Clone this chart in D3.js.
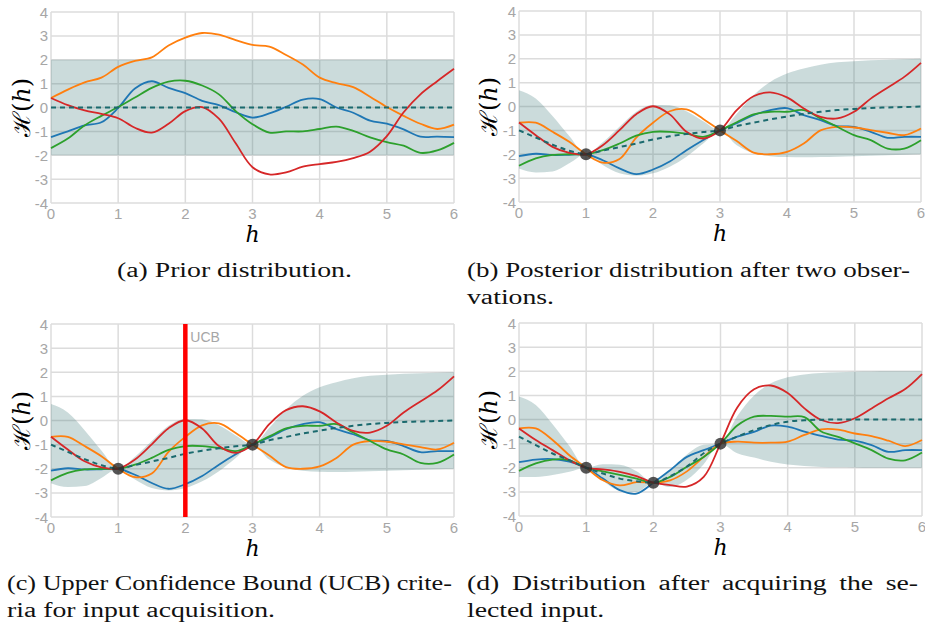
<!DOCTYPE html>
<html>
<head>
<meta charset="utf-8">
<script src="https://cdn.jsdelivr.net/npm/d3@7"></script>
<style>
  html, body { margin: 0; padding: 0; background: #fff; }
  svg { display: block; }
</style>
</head>
<body>
<svg id="fig" width="925" height="625"></svg>
<script>
// Gaussian-process sketches on a shared input grid h = 0 … 6
const hGrid = [0, 0.25, 0.5, 0.75, 1, 1.25, 1.5, 1.75, 2, 2.25, 2.5, 2.75, 3,
               3.25, 3.5, 3.75, 4, 4.25, 4.5, 4.75, 5, 5.25, 5.5, 5.75, 6];
const xTicks = [0, 1, 2, 3, 4, 5, 6];
const yTicks = [-4, -3, -2, -1, 0, 1, 2, 3, 4];

// (a) prior
const priorMean  = [0,0,0,0,0,0,0,0,0,0,0,0,0,0,0,0,0,0,0,0,0,0,0,0,0];
const priorUpper = [2,2,2,2,2,2,2,2,2,2,2,2,2,2,2,2,2,2,2,2,2,2,2,2,2];
const priorLower = [-2,-2,-2,-2,-2,-2,-2,-2,-2,-2,-2,-2,-2,-2,-2,-2,-2,-2,-2,-2,-2,-2,-2,-2,-2];
const priorBlue   = [-1.24,-1.0,-0.75,-0.62,-0.02,0.8,1.1,0.82,0.6,0.28,0.1,-0.2,-0.42,-0.25,0.03,0.33,0.35,0.0,-0.22,-0.55,-0.68,-0.92,-1.22,-1.22,-1.24];
const priorOrange = [0.40,0.75,1.05,1.25,1.7,1.95,2.1,2.6,2.93,3.12,3.05,2.82,2.62,2.55,2.2,1.8,1.25,1.02,0.85,0.45,0.02,-0.35,-0.68,-0.9,-0.72];
const priorGreen  = [-1.70,-1.3,-0.75,-0.35,0.02,0.42,0.82,1.08,1.12,0.92,0.55,-0.15,-0.7,-1.05,-1.0,-1.0,-0.9,-0.8,-0.98,-1.25,-1.45,-1.6,-1.9,-1.8,-1.48];
const priorRed    = [0.40,0.1,-0.12,-0.27,-0.45,-0.85,-1.05,-0.68,-0.15,0.02,-0.47,-1.5,-2.5,-2.8,-2.72,-2.48,-2.37,-2.28,-2.12,-1.85,-1.2,-0.2,0.55,1.1,1.62];

// (b), (c) posterior after two observations
const postObsH = [1, 3];
const postObsY = [-2, -1];
const postMean  = [-1.0,-1.3,-1.6,-1.85,-2.0,-1.85,-1.7,-1.55,-1.38,-1.25,-1.15,-1.07,-1.0,-0.82,-0.68,-0.54,-0.42,-0.31,-0.22,-0.15,-0.1,-0.06,-0.04,-0.02,0.0];
const postUpper = [0.68,0.33,-0.4,-1.24,-2.0,-1.5,-0.85,-0.22,0.06,0.05,-0.2,-0.62,-1.0,-0.3,0.47,1.03,1.38,1.59,1.75,1.85,1.9,1.94,1.96,1.98,2.0];
const postLower = [-2.6,-2.76,-2.72,-2.38,-2.0,-2.45,-2.8,-2.9,-2.8,-2.52,-2.1,-1.55,-1.0,-1.62,-1.95,-2.08,-2.12,-2.13,-2.12,-2.1,-2.08,-2.06,-2.04,-2.02,-2.0];
const postBlue   = [-2.08,-1.98,-2.03,-2.02,-2.0,-2.25,-2.59,-2.83,-2.64,-2.3,-1.83,-1.4,-1.0,-0.7,-0.36,-0.15,-0.07,-0.36,-0.57,-0.82,-0.85,-1.06,-1.31,-1.27,-1.27];
const postOrange = [-0.68,-0.68,-1.06,-1.48,-2.0,-2.35,-2.2,-1.3,-0.68,-0.2,-0.12,-0.52,-1.0,-1.45,-1.93,-2.0,-1.9,-1.55,-1.0,-0.85,-0.88,-0.99,-1.1,-1.2,-0.92];
const postGreen  = [-2.48,-2.17,-2.03,-2.0,-2.0,-1.83,-1.55,-1.22,-1.06,-1.06,-1.14,-1.27,-1.0,-0.66,-0.33,-0.22,-0.22,-0.15,-0.5,-0.85,-1.2,-1.41,-1.76,-1.76,-1.41];
const postRed    = [-0.67,-1.2,-1.69,-1.94,-2.0,-1.62,-0.99,-0.32,0.01,-0.33,-1.06,-1.34,-1.0,-0.15,0.43,0.59,0.38,-0.08,-0.43,-0.5,-0.22,0.33,0.79,1.24,1.83];
const ucbH = 2;
const ucbLabel = "UCB";

// (d) posterior after acquiring h = 2
const acqObsH = [1, 2, 3];
const acqObsY = [-2, -2.62, -1];
const acqMean  = [-0.71,-1.06,-1.41,-1.69,-2.0,-2.24,-2.45,-2.56,-2.62,-2.35,-1.95,-1.4,-1.0,-0.71,-0.44,-0.23,-0.09,-0.03,-0.01,0,0,0,0,0,0];
const acqUpper = [0.95,0.6,-0.2,-1.1,-2.0,-1.86,-1.88,-2.15,-2.62,-2.1,-1.45,-1.05,-1.0,0.15,1.0,1.5,1.75,1.87,1.93,1.96,1.98,1.99,2.0,2.0,2.0];
const acqLower = [-2.38,-2.38,-2.3,-2.17,-2.0,-2.55,-2.95,-3.0,-2.62,-2.8,-2.5,-1.85,-1.0,-1.4,-1.58,-1.75,-1.87,-1.93,-1.97,-1.98,-1.99,-2.0,-2.0,-2.0,-2.0];
const acqBlue   = [-1.77,-1.66,-1.64,-1.75,-2.0,-2.45,-2.93,-3.07,-2.62,-2.1,-1.55,-1.27,-1.0,-0.71,-0.51,-0.25,-0.3,-0.5,-0.68,-0.83,-0.88,-1.06,-1.34,-1.27,-1.27];
const acqOrange = [-0.37,-0.37,-0.85,-1.48,-2.0,-2.52,-2.73,-2.6,-2.62,-2.52,-2.15,-1.55,-1.0,-0.92,-0.96,-0.96,-0.92,-0.64,-0.41,-0.42,-0.58,-0.69,-0.88,-1.1,-0.85];
const acqGreen  = [-2.13,-1.82,-1.66,-1.69,-2.0,-2.15,-2.3,-2.45,-2.62,-2.38,-1.96,-1.55,-1.0,-0.25,0.12,0.15,0.12,0.1,-0.5,-0.72,-0.99,-1.27,-1.62,-1.69,-1.37];
const acqRed    = [-0.37,-0.85,-1.27,-1.69,-2.0,-2.07,-2.17,-2.35,-2.62,-2.72,-2.78,-2.38,-1.0,0.5,1.25,1.41,1.1,0.46,-0.02,-0.15,0.05,0.46,0.88,1.26,1.88];

const captionA  = ["(a) Prior distribution."];
const captionB  = ["(b) Posterior distribution after two obser-", "vations."];
const captionC  = ["(c) Upper Confidence Bound (UCB) crite-", "ria for input acquisition."];
const captionD  = ["(d) Distribution after acquiring the se-", "lected input."];

const sampleColors = ["#1f77b4", "#ff7f0e", "#2ca02c", "#d62728"];

const tickFont = "'Liberation Sans', Arial, sans-serif";
const mathFont = "'DejaVu Serif', 'Liberation Serif', serif";
const textFont = "'Liberation Serif', 'Times New Roman', serif";

// caption lines: justified lines carry a full measure, closing lines run at natural width
const panels = [
  { box: [51, 454, 12, 203], labelX: 22, mean: priorMean, upper: priorUpper, lower: priorLower,
    samples: [priorBlue, priorOrange, priorGreen, priorRed], obsH: [], obsY: [],
    caption: captionA, capX: 117, capW: [null], capY: 277 },
  { box: [519, 921, 11, 202], labelX: 489, mean: postMean, upper: postUpper, lower: postLower,
    samples: [postBlue, postOrange, postGreen, postRed], obsH: postObsH, obsY: postObsY,
    caption: captionB, capX: 467, capW: [443, null], capY: 277 },
  { box: [51, 454, 324, 517], labelX: 22, mean: postMean, upper: postUpper, lower: postLower,
    samples: [postBlue, postOrange, postGreen, postRed], obsH: postObsH, obsY: postObsY,
    ucb: ucbH, caption: captionC, capX: 7, capW: [445, null], capY: 590 },
  { box: [519, 922, 323, 516], labelX: 489, mean: acqMean, upper: acqUpper, lower: acqLower,
    samples: [acqBlue, acqOrange, acqGreen, acqRed], obsH: acqObsH, obsY: acqObsY,
    caption: captionD, capX: 467, capW: [451, null], capY: 590 }
];

const svg = d3.select("#fig");

// horizontal stretch that gives the caption face a Computer-Modern-like set width
const probe = svg.append("text").attr("font-family", textFont).attr("font-size", 20).text(captionA[0]);
const capStretch = 235 / probe.node().getComputedTextLength();
probe.remove();

panels.forEach(p => {
  const [x0, x1, y0, y1] = p.box;
  const x = d3.scaleLinear().domain([0, 6]).range([x0, x1]);
  const y = d3.scaleLinear().domain([-4, 4]).range([y1, y0]);
  const g = svg.append("g");

  // grid
  g.selectAll("line.gx").data(xTicks).join("line")
    .attr("x1", d => x(d)).attr("x2", d => x(d)).attr("y1", y0).attr("y2", y1)
    .attr("stroke", "#dcdcdc").attr("stroke-width", 1.5);
  g.selectAll("line.gy").data(yTicks).join("line")
    .attr("y1", d => y(d)).attr("y2", d => y(d)).attr("x1", x0).attr("x2", x1)
    .attr("stroke", "#dcdcdc").attr("stroke-width", 1.5);

  // tick labels
  g.selectAll("text.tx").data(xTicks).join("text")
    .attr("x", d => x(d)).attr("y", y1 + 16)
    .attr("text-anchor", "middle")
    .attr("font-family", tickFont).attr("font-size", 15)
    .attr("fill", "#a6a6a6").text(d => d);
  g.selectAll("text.ty").data(yTicks).join("text")
    .attr("x", x0 - 3).attr("y", d => y(d) + 5.5)
    .attr("text-anchor", "end")
    .attr("font-family", tickFont).attr("font-size", 15)
    .attr("fill", "#a6a6a6").text(d => d);

  const rows = hGrid.map((h, i) => ({ h, lo: p.lower[i], hi: p.upper[i], m: p.mean[i] }));

  // uncertainty band (mean ± 2σ)
  g.append("path").datum(rows)
    .attr("d", d3.area().x(d => x(d.h)).y0(d => y(d.lo)).y1(d => y(d.hi)).curve(d3.curveMonotoneX))
    .attr("fill", "rgb(47,110,110)").attr("fill-opacity", 0.25);

  // sampled functions
  p.samples.forEach((s, k) => {
    g.append("path").datum(hGrid.map((h, i) => [h, s[i]]))
      .attr("d", d3.line().x(d => x(d[0])).y(d => y(d[1])).curve(d3.curveCatmullRom.alpha(0.5)))
      .attr("fill", "none").attr("stroke", sampleColors[k]).attr("stroke-width", 1.8);
  });

  // mean
  g.append("path").datum(rows)
    .attr("d", d3.line().x(d => x(d.h)).y(d => y(d.m)).curve(d3.curveMonotoneX))
    .attr("fill", "none").attr("stroke", "#1b6a6e").attr("stroke-width", 2)
    .attr("stroke-dasharray", "5,4");

  // observations
  g.selectAll("circle.obs").data(p.obsH.map((h, i) => [h, p.obsY[i]])).join("circle")
    .attr("cx", d => x(d[0])).attr("cy", d => y(d[1])).attr("r", 6)
    .attr("fill", "#2a2a2a").attr("fill-opacity", 0.8);

  // acquisition marker
  if (p.ucb !== undefined) {
    g.append("line")
      .attr("x1", x(p.ucb)).attr("x2", x(p.ucb)).attr("y1", y(4)).attr("y2", y(-4))
      .attr("stroke", "#ff0000").attr("stroke-width", 4.5);
    g.append("text").attr("x", x(p.ucb) + 5).attr("y", y(4) + 18)
      .attr("font-family", tickFont).attr("font-size", 14)
      .attr("fill", "#a6a6a6").text(ucbLabel);
  }

  // axis titles
  const yl = g.append("text")
    .attr("transform", `translate(${p.labelX + 8},${(y0 + y1) / 2}) rotate(-90)`)
    .attr("text-anchor", "middle")
    .attr("font-family", mathFont).attr("font-size", 24);
  yl.append("tspan").text("ℋ(");
  yl.append("tspan").attr("font-style", "italic").text("h");
  yl.append("tspan").text(")");

  g.append("text").attr("x", (x0 + x1) / 2).attr("y", y1 + 39)
    .attr("text-anchor", "middle")
    .attr("font-family", mathFont).attr("font-style", "italic")
    .attr("font-size", 22).text("h");

  // caption
  p.caption.forEach((line, i) => {
    const t = g.append("text")
      .attr("transform", `translate(${p.capX},${p.capY + i * 27}) scale(${capStretch},1)`)
      .attr("font-family", textFont).attr("font-size", 20)
      .attr("fill", "#111")
      .text(line);
    const target = p.capW[i];
    if (target) {
      const natural = t.node().getComputedTextLength();
      const gaps = (line.match(/ /g) || []).length;
      const extra = target / capStretch - natural;
      if (gaps > 0 && extra > 0) t.attr("word-spacing", extra / gaps);
      else if (extra < 0) t.attr("textLength", target / capStretch).attr("lengthAdjust", "spacingAndGlyphs");
    }
  });
});
</script>
</body>
</html>
